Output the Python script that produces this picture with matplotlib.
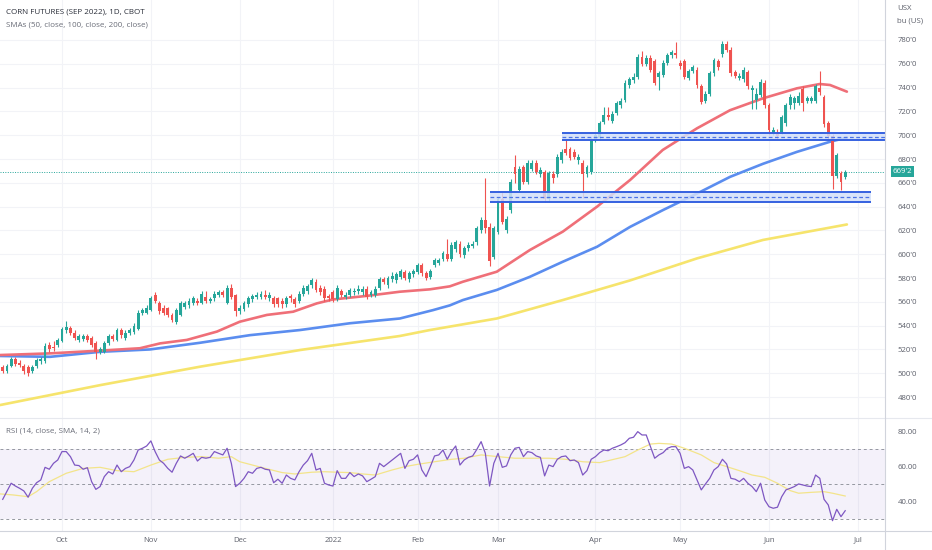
import numpy as np
import pandas as pd
import matplotlib.pyplot as plt
from matplotlib.lines import Line2D
import matplotlib.transforms as mtransforms

plt.rcParams['font.family'] = ['Open Sans', 'DejaVu Sans']

# daily bars, Sep 13 2021 .. Jun 28 2022 (cents per bushel)
opens = [505, 502, 506, 512, 509, 506, 505, 502, 506, 510,
         510, 524, 522, 524, 527, 536, 538, 534, 528, 529,
         531, 530, 525, 518, 518, 525, 531, 528, 536, 530,
         534, 535, 537, 551, 551, 553, 566, 559, 555, 555,
         549, 543, 549, 556, 557, 559, 561, 559, 564, 561,
         563, 566, 568, 559, 572, 566, 552, 554, 558, 562,
         564, 564, 566, 563, 563, 563, 561, 558, 565, 562,
         561, 567, 569, 574, 577, 572, 571, 565, 568, 562,
         569, 564, 566, 568, 569, 568, 571, 566, 566, 572,
         579, 574, 579, 578, 581, 585, 579, 583, 585, 591,
         584, 581, 591, 593, 596, 600, 596, 604, 609, 599,
         605, 607, 610, 620, 629, 623, 598, 619, 646, 620,
         637, 673, 654, 673, 661, 672, 677, 667, 669, 646,
         667, 667, 679, 688, 688, 686, 679, 677, 667, 669,
         696, 698, 711, 717, 712, 719, 725, 730, 742, 746,
         749, 766, 760, 765, 762, 749, 751, 761, 767, 769,
         761, 762, 748, 754, 755, 741, 729, 735, 752, 762,
         768, 777, 772, 753, 748, 747, 753, 738, 730, 734,
         744, 725, 702, 703, 703, 710, 725, 727, 727, 739,
         729, 729, 729, 740, 732, 710, 699, 666, 668, 665]

closes = [502, 506, 512, 508, 507, 502, 500, 505, 511, 512,
          523, 520, 521, 528, 537, 539, 534, 530, 531, 531,
          528, 524, 518, 520, 525, 531, 529, 536, 532, 534,
          536, 540, 551, 553, 555, 563, 561, 552, 551, 549,
          545, 553, 559, 559, 561, 563, 559, 567, 561, 562,
          567, 568, 566, 572, 564, 552, 555, 559, 563, 565,
          566, 567, 564, 566, 558, 558, 558, 563, 563, 558,
          567, 572, 573, 578, 570, 568, 563, 563, 562, 572,
          566, 566, 570, 569, 571, 571, 564, 568, 571, 579,
          577, 580, 582, 583, 586, 580, 584, 586, 591, 584,
          580, 586, 595, 595, 601, 596, 608, 610, 600, 605,
          608, 609, 622, 629, 622, 594, 622, 646, 627, 630,
          661, 667, 672, 661, 677, 677, 669, 671, 646, 668,
          664, 682, 686, 685, 681, 682, 682, 667, 673, 696,
          700, 710, 717, 715, 718, 727, 729, 744, 747, 749,
          766, 760, 765, 755, 744, 752, 761, 767, 770, 767,
          758, 749, 754, 757, 742, 728, 735, 752, 763, 757,
          777, 772, 752, 750, 750, 755, 741, 740, 735, 745,
          725, 704, 704, 699, 715, 725, 732, 731, 733, 727,
          731, 731, 741, 736, 709, 699, 666, 683, 661, 669.25]

highs = [507, 508, 514, 514, 511, 508, 507, 507, 513, 514,
         525, 526, 527, 530, 539, 544, 540, 536, 533, 533,
         533, 531, 527, 522, 527, 533, 533, 538, 538, 536,
         538, 542, 553, 555, 557, 565, 568, 561, 557, 556,
         551, 555, 561, 561, 563, 565, 563, 569, 569, 564,
         569, 570, 570, 574, 575, 567, 557, 561, 565, 567,
         568, 569, 570, 568, 565, 564, 563, 565, 567, 564,
         569, 574, 575, 580, 579, 574, 573, 567, 570, 574,
         571, 568, 572, 572, 574, 573, 573, 570, 573, 581,
         581, 582, 585, 585, 588, 587, 586, 588, 593, 593,
         586, 588, 597, 597, 603, 613, 610, 612, 611, 607,
         610, 611, 624, 631, 664, 626, 624, 648, 652, 632,
         663, 683, 674, 675, 679, 679, 679, 673, 671, 670,
         670, 684, 688, 696, 690, 688, 684, 679, 675, 698,
         702, 712, 724, 724, 720, 729, 731, 746, 749, 752,
         768, 771, 767, 767, 764, 754, 763, 769, 772, 778,
         763, 764, 756, 759, 757, 743, 737, 754, 765, 764,
         779, 779, 774, 755, 752, 757, 755, 742, 740, 747,
         746, 727, 707, 705, 717, 727, 735, 733, 736, 741,
         733, 733, 743, 754, 734, 712, 701, 685, 670, 671]

lows = [500, 500, 505, 506, 505, 499, 498, 500, 504, 508,
        509, 518, 519, 522, 526, 534, 532, 528, 526, 527,
        526, 522, 512, 516, 517, 524, 527, 527, 530, 528,
        532, 533, 536, 549, 550, 552, 559, 550, 549, 547,
        543, 541, 548, 554, 555, 557, 557, 558, 559, 559,
        561, 564, 564, 558, 562, 548, 550, 552, 556, 560,
        562, 562, 562, 561, 556, 556, 555, 556, 560, 556,
        559, 565, 567, 572, 568, 566, 561, 561, 560, 561,
        564, 562, 564, 566, 567, 566, 562, 564, 564, 570,
        575, 572, 577, 576, 579, 578, 577, 581, 583, 582,
        578, 579, 589, 591, 594, 594, 594, 602, 598, 597,
        603, 605, 608, 618, 618, 590, 596, 617, 625, 618,
        635, 660, 652, 659, 659, 670, 667, 665, 644, 644,
        660, 665, 677, 683, 679, 680, 676, 647, 665, 667,
        694, 696, 709, 713, 710, 717, 723, 728, 740, 744,
        747, 758, 758, 753, 742, 738, 749, 759, 765, 765,
        756, 747, 746, 752, 740, 726, 727, 733, 750, 755,
        766, 770, 750, 748, 746, 745, 739, 722, 722, 732,
        723, 700, 700, 697, 701, 708, 722, 722, 725, 720,
        727, 727, 727, 734, 707, 697, 655, 664, 654, 663]

# moving averages (bar index, value)
sma50_bars = [-0.6, 11.2, 23, 32.4, 37.2, 43.5, 50.6, 56, 62.4, 68.6, 74.2, 78,
              86, 93.8, 100.9, 105.6, 108.7, 116.7, 124.5, 132.3, 140.4, 148.2,
              155.9, 164, 171.8, 179.6, 187.6, 193, 195.4, 199.4]
sma50_vals = [515.3, 516.7, 519, 521, 525.1, 528, 535, 543.3, 549, 551.7, 558.7,
              562, 565, 568.5, 570.5, 573, 576.9, 585.3, 603.5, 619, 640, 662.4,
              687.6, 705.8, 721, 731, 739.4, 743, 742.2, 736.6]
sma100_bars = [-0.6, 11.2, 23, 34.8, 46.6, 58.4, 70.2, 82, 93.8, 101.6, 105.6,
               108.7, 116.7, 124.5, 132.3, 140.4, 148.2, 155.9, 164, 171.8,
               179.6, 187.6, 195.4, 199.4]
sma100_vals = [514.5, 513.8, 518, 520, 525.6, 532, 536.3, 542, 546, 553, 557,
               561.5, 570, 581, 593.7, 606.3, 623, 637, 651, 665, 676, 686,
               694.5, 698]
sma200_bars = [-0.6, 23, 46.6, 70.2, 93.8, 100.9, 116.7, 132.3, 148.2, 164,
               179.6, 199.4]
sma200_vals = [473.3, 490, 505.5, 519.5, 531.3, 536.3, 546, 561.5, 578, 596.5,
               612, 625]

rsi_vals = [41.5, 46.1, 50.7, 49.1, 47.8, 46.3, 42.7, 47.8, 51.0, 52.6,
            59.8, 58.7, 62.1, 64.0, 68.8, 68.8, 65.9, 61.1, 60.8, 58.7,
            59.6, 51.6, 47.2, 48.8, 54.5, 57.3, 56.0, 61.1, 57.3, 59.2,
            60.2, 64.0, 69.7, 70.7, 72.0, 74.9, 68.8, 64.0, 62.1, 59.2,
            57.0, 62.1, 66.3, 65.0, 66.3, 67.8, 63.4, 65.5, 65.0, 65.5,
            68.8, 67.8, 66.9, 70.7, 62.1, 48.8, 50.7, 53.5, 57.3, 56.4,
            59.2, 59.8, 58.7, 58.3, 51.0, 53.0, 50.7, 55.4, 53.5, 52.6,
            57.3, 61.1, 63.6, 67.8, 58.3, 59.2, 50.7, 49.7, 49.1, 57.9,
            53.5, 53.5, 56.8, 54.5, 56.0, 54.9, 51.6, 53.0, 54.5, 62.1,
            60.2, 62.1, 64.0, 65.9, 67.8, 59.2, 63.6, 64.4, 66.9, 58.3,
            54.5, 60.2, 66.3, 66.9, 69.7, 64.4, 68.8, 72.0, 61.1, 64.0,
            65.5, 66.3, 70.1, 74.5, 67.8, 49.1, 62.1, 67.8, 59.8, 60.6,
            66.9, 70.7, 71.2, 65.9, 68.8, 68.2, 66.3, 65.5, 54.9, 61.1,
            60.2, 64.4, 65.9, 66.3, 63.6, 64.0, 62.5, 55.4, 57.9, 64.4,
            65.9, 68.2, 69.7, 69.3, 70.7, 71.6, 72.6, 73.9, 76.4, 77.0,
            80.2, 78.3, 78.3, 71.6, 65.0, 66.9, 68.2, 70.7, 71.6, 71.6,
            67.8, 59.2, 60.2, 58.3, 52.6, 46.9, 50.3, 53.5, 58.3, 60.2,
            64.4, 61.7, 53.5, 53.0, 51.6, 53.5, 50.7, 48.8, 45.9, 50.7,
            41.1, 37.3, 36.4, 37.0, 43.0, 46.9, 47.8, 48.8, 50.3, 49.7,
            49.1, 48.8, 55.4, 53.5, 41.5, 38.3, 29.3, 35.8, 31.6, 35.0]

rsi_ma_bars = [-0.6, 2.5, 6, 8, 11, 15, 19, 23, 27, 31, 35, 39, 43, 47, 51, 54,
               56, 59, 62, 66, 69, 73, 76, 79, 82, 85, 88, 92, 95, 98, 102, 106,
               109, 113, 117, 121, 125, 129, 133, 137, 141, 143, 147, 150, 153,
               155, 158, 161, 165, 168, 171, 174, 177, 180, 183, 186, 188, 191,
               194, 196, 199]
rsi_ma_vals = [44.6, 44.0, 43.0, 45.9, 51.6, 56.4, 59.2, 59.8, 57.9, 57.3, 61.1,
               64.4, 65.5, 65.9, 65.0, 65.9, 63.0, 61.1, 59.2, 56.8, 56.0, 57.0,
               57.3, 57.0, 56.8, 56.0, 55.4, 58.3, 60.2, 61.5, 63.0, 64.4, 65.0,
               66.9, 65.9, 65.0, 65.0, 65.0, 64.4, 63.0, 62.5, 63.6, 65.9, 69.7,
               73.1, 73.5, 73.1, 70.7, 66.9, 62.5, 60.2, 57.9, 55.4, 54.1, 50.7,
               46.5, 45.0, 45.5, 45.9, 45.0, 43.4]

# support / resistance zones (bottom, top, first bar, last bar)
zones = [(695.8, 701.8, 132.1, 212), (644.2, 652.4, 115.1, 205.1)]

price_ticks = list(range(480, 781, 20))
rsi_ticks = [40, 60, 80]

holidays = ['2021-11-25', '2021-12-24', '2022-01-17', '2022-02-21',
            '2022-04-15', '2022-05-30', '2022-06-20']
cal = pd.bdate_range('2021-09-13', '2022-07-08')
cal = cal[~cal.isin(pd.to_datetime(holidays))]

n = len(closes)
x = np.arange(n)
o = np.array(opens, float)
c = np.array(closes, float)
up = c >= o
green, red = '#26a69a', '#ef5350'
txt = '#5d606b'
grid = '#f2f3f7'

W, H = 932, 550
fig = plt.figure(figsize=(W / 100, H / 100), dpi=100)
ax = fig.add_axes([0, 132 / H, 885 / W, 418 / H])
axr = fig.add_axes([0, 19 / H, 885 / W, 113 / H], sharex=ax)

# month ticks
mpos, mlab = [], []
prev = None
for i, d in enumerate(cal):
    if prev is not None and d.month != prev:
        mpos.append(i)
        mlab.append(str(d.year) if d.month == 1 else d.strftime('%b'))
    prev = d.month

for a in (ax, axr):
    for s in a.spines.values():
        s.set_visible(False)
    a.set_xlim(-0.64, 208.4)
    for p in mpos:
        a.axvline(p, color=grid, lw=0.8, zorder=0)

# price pane
ax.set_ylim(462.4, 813.6)
for v in price_ticks:
    ax.axhline(v, color=grid, lw=0.8, zorder=0)

cols = np.where(up, green, red)
ax.vlines(x, lows, highs, colors=cols, lw=0.8, zorder=3)
ax.bar(x, np.maximum(np.abs(c - o), 0.8), bottom=np.minimum(o, c), width=0.68,
       color=cols, zorder=4, linewidth=0)

line_kw = dict(lw=1.9, zorder=2, solid_capstyle='round', solid_joinstyle='round')
ax.plot(sma200_bars, sma200_vals, color='#f6e46c', **line_kw)
ax.plot(sma100_bars, sma100_vals, color='#5b8def', **line_kw)
ax.plot(sma50_bars, sma50_vals, color='#ef6f78', **line_kw)

for lo, hi, x0, x1 in zones:
    ax.fill_between([x0, x1], lo, hi, color='#d3e0fa', alpha=0.85, lw=0, zorder=5)
    ax.hlines([lo, hi], x0, x1, colors='#3561e0', lw=1.4, zorder=6)
    ax.hlines((lo + hi) / 2, x0, x1, colors='#4a72e6', lw=0.9,
              linestyles=(0, (3, 2)), zorder=6)

last = closes[-1]
ax.axhline(last, color=green, lw=0.7, ls=(0, (1, 1.5)), zorder=1)

ax.yaxis.tick_right()
ax.set_yticks(price_ticks)
ax.set_yticklabels([f"{v}'0" for v in price_ticks])
ax.tick_params(axis='y', length=0, pad=9, labelsize=5.6, labelcolor=txt)
ax.tick_params(axis='x', length=0, labelbottom=False)

tr = mtransforms.blended_transform_factory(ax.transAxes, ax.transData)
ax.text(1.0085, last, "669'2", transform=tr, ha='left', va='center',
        fontsize=5.6, color='white', clip_on=False,
        bbox=dict(boxstyle='square,pad=0.25', fc=green, ec='none'))

ax.text(6 / 885, 1 - 12 / 418, 'CORN FUTURES (SEP 2022), 1D, CBOT',
        transform=ax.transAxes, fontsize=5.8, color='#2a2e39', va='center')
ax.text(6 / 885, 1 - 25 / 418, 'SMAs (50, close, 100, close, 200, close)',
        transform=ax.transAxes, fontsize=5.8, color='#6a6d78', va='center')

# RSI pane
axr.set_ylim(23.4, 88)
axr.axhspan(30, 70, color='#7e57c2', alpha=0.08, lw=0, zorder=0)
for lvl in (70, 50, 30):
    axr.axhline(lvl, color='#9598a1', lw=0.7, ls=(0, (3, 3)), zorder=1)
axr.plot(rsi_ma_bars, rsi_ma_vals, color='#f3e48a', lw=0.9, zorder=2)
axr.plot(x, rsi_vals, color='#7e57c2', lw=0.9, zorder=3)

axr.yaxis.tick_right()
axr.set_yticks(rsi_ticks)
axr.set_yticklabels([f'{v:.2f}' for v in rsi_ticks])
axr.tick_params(axis='y', length=0, pad=9, labelsize=5.6, labelcolor=txt)
axr.set_xticks(mpos)
axr.set_xticklabels(mlab)
axr.tick_params(axis='x', length=0, pad=4, labelsize=5.6, labelcolor=txt)
axr.text(6 / 885, 1 - 13 / 113, 'RSI (14, close, SMA, 14, 2)',
         transform=axr.transAxes, fontsize=5.8, color='#6a6d78', va='center')

# frame lines
line_c = '#d1d4dc'
fig.add_artist(Line2D([0, 1], [1 - 418 / H, 1 - 418 / H], color='#e6e8ee', lw=0.8))
fig.add_artist(Line2D([0, 1], [19 / H, 19 / H], color=line_c, lw=0.8))
fig.add_artist(Line2D([885 / W, 885 / W], [0, 1], color=line_c, lw=0.8))

fig.text(897 / W, 1 - 9 / H, 'USX', fontsize=5.6, color=txt, va='center')
fig.text(897 / W, 1 - 21 / H, 'bu (US)', fontsize=5.6, color=txt, va='center')

fig.savefig('out.png', dpi=100, facecolor='white')
